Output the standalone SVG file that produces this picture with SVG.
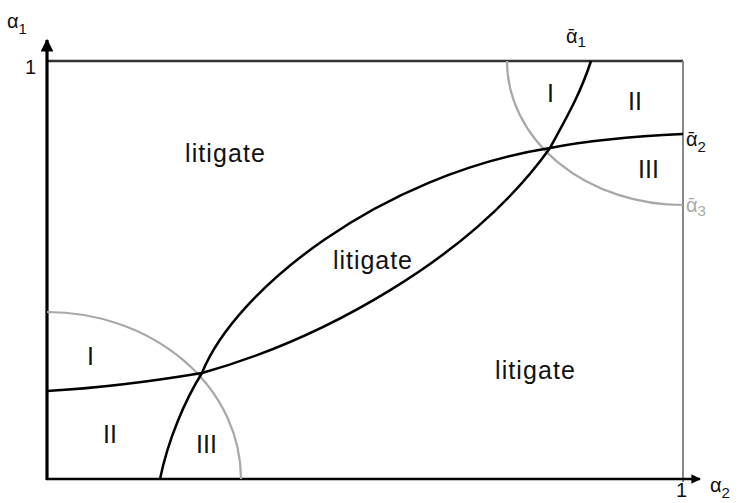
<svg xmlns="http://www.w3.org/2000/svg" width="747" height="503" viewBox="0 0 747 503">
<style>
text{font-family:"Liberation Sans",Arial,sans-serif;fill:#111}
.lbl{font-size:25px}
.ax{font-size:20px}
.sub{font-size:15px}
.curve{fill:none;stroke:#000;stroke-width:2.5}
.gray{fill:none;stroke:#a8a8a8;stroke-width:2.2}
</style>
<defs>
<marker id="arr" viewBox="0 0 10 10" refX="9" refY="5" markerWidth="4" markerHeight="4" orient="auto" markerUnits="strokeWidth">
<path d="M0,0 L10,5 L0,10 z" fill="#000"/>
</marker>
</defs>
<rect width="747" height="503" fill="#fff"/>
<g id="frame">
<line x1="47" y1="61" x2="683" y2="61" stroke="#333" stroke-width="2.5"/>
<line x1="683" y1="61" x2="683" y2="482" stroke="#888" stroke-width="2"/>
</g>
<g id="axes">
<line x1="47" y1="480" x2="47" y2="40" stroke="#000" stroke-width="3.2" marker-end="url(#arr)"/>
<line x1="46" y1="479" x2="700" y2="479" stroke="#000" stroke-width="2.4" marker-end="url(#arr)"/>
</g>
<g id="connectors">
<path class="gray" d="M47,312 A194,167 0 0 1 241,479"/>
<path class="gray" d="M507,61 A176,144 0 0 0 683,205"/>
<path class="curve" d="M202,373 C235,290 380,175 550,148"/>
<path class="curve" d="M202,373 C320,340 470,260 550,148"/>
<path class="curve" d="M550,148 C565,120 580,95 591,61"/>
<path class="curve" d="M550,148 C590,140 640,136 683,134"/>
<path class="curve" d="M47,391 C100,388 160,380 202,373"/>
<path class="curve" d="M202,373 C185,400 168,440 160,479"/>
</g>
<g id="labels">
<text class="ax" x="7" y="28">α<tspan class="sub" dy="6">1</tspan></text>
<text class="ax" x="25" y="74">1</text>
<text class="ax" x="676" y="497">1</text>
<text class="ax" x="710" y="492">α<tspan class="sub" dy="6">2</tspan></text>
<text class="ax" x="566" y="43">ᾱ<tspan class="sub" dy="4">1</tspan></text>
<text class="ax" x="686" y="146">ᾱ<tspan class="sub" dy="6">2</tspan></text>
<text class="ax" x="686" y="212" style="fill:#aaa">ᾱ<tspan class="sub" dy="4">3</tspan></text>
</g>
<g id="regions">
<text class="lbl" x="185" y="162" textLength="80">litigate</text>
<text class="lbl" x="333" y="269" textLength="79">litigate</text>
<text class="lbl" x="495" y="379" textLength="80">litigate</text>
<text class="lbl" x="87" y="365">I</text>
<text class="lbl" x="103" y="443">II</text>
<text class="lbl" x="196" y="453">III</text>
<text class="lbl" x="547" y="102">I</text>
<text class="lbl" x="628" y="110">II</text>
<text class="lbl" x="638" y="178">III</text>
</g>
</svg>
